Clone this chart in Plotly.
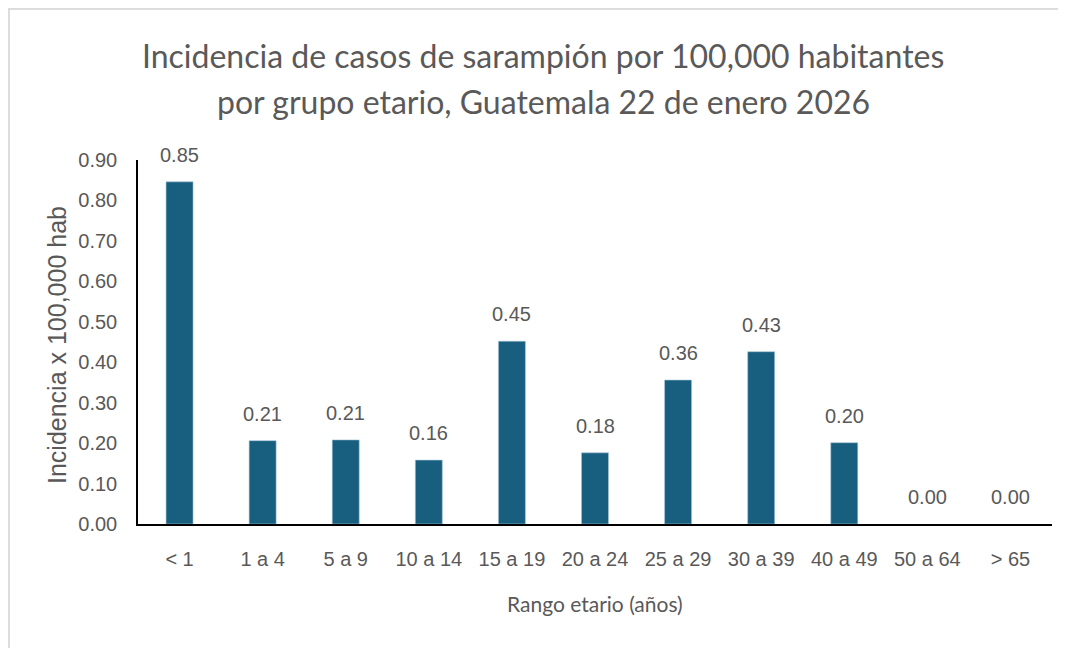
import plotly.graph_objects as go

categories = ["< 1", "1 a 4", "5 a 9", "10 a 14", "15 a 19", "20 a 24",
              "25 a 29", "30 a 39", "40 a 49", "50 a 64", "> 65"]
incidence = [0.846, 0.206, 0.208, 0.158, 0.452, 0.176, 0.356, 0.426, 0.201, 0.0, 0.0]
y_ticks = [0.0, 0.1, 0.2, 0.3, 0.4, 0.5, 0.6, 0.7, 0.8, 0.9]

title_lines = ["Incidencia de casos de sarampión por 100,000 habitantes",
               "por grupo etario, Guatemala 22 de enero 2026"]
x_title = "Rango etario (años)"
y_title = "Incidencia x 100,000 hab"

TITLE_FONT = "Lato, Liberation Sans, sans-serif"
TICK_FONT = "Liberation Sans, Arial, sans-serif"
GRAY = "#595959"

W, H = 1066, 648
L, T, R, B = 130, 152, 22, 132
pw = W - L - R
ph = H - T - B


def px_x(fx):
    return (fx - L) / pw


def px_y(fy):
    return (H - B - fy) / ph


fig = go.Figure(go.Bar(
    x=categories,
    y=incidence,
    marker=dict(color="#175E7F",
                line=dict(color="#a9c8d6", width=[0.6 if v > 0 else 0 for v in incidence])),
    hoverinfo="x+y",
))

for c, v in zip(categories, incidence):
    fig.add_annotation(x=c, y=v, xref="x", yref="y", text=f"{v:.2f}",
                       showarrow=False, yanchor="bottom", yshift=14,
                       font=dict(family=TICK_FONT, size=20, color=GRAY))

for i, line in enumerate(title_lines):
    fig.add_annotation(x=px_x(535), y=px_y(48 + 46 * i), xref="paper", yref="paper",
                       text=line, showarrow=False, xanchor="center", yanchor="middle",
                       font=dict(family=TITLE_FONT, size=32, color=GRAY))

fig.add_annotation(x=0.5, y=px_y(595), xref="paper", yref="paper", text=x_title,
                   showarrow=False, xanchor="center", yanchor="middle",
                   font=dict(family=TITLE_FONT, size=21, color=GRAY))
fig.add_annotation(x=px_x(49), y=px_y(337), xref="paper", yref="paper", text=y_title,
                   showarrow=False, xanchor="center", yanchor="middle", textangle=-90,
                   font=dict(family=TICK_FONT, size=25, color=GRAY))

fig.update_layout(
    width=W, height=H,
    margin=dict(l=L, r=R, t=T, b=B),
    paper_bgcolor="white",
    plot_bgcolor="white",
    bargap=0.675,
    showlegend=False,
    xaxis=dict(
        showline=True, linecolor="black", linewidth=1.5,
        ticks="", tickfont=dict(family=TICK_FONT, size=20, color=GRAY),
        ticklabelstandoff=16, showgrid=False,
    ),
    yaxis=dict(
        range=[0, 0.9], tickvals=y_ticks, tickformat=".2f",
        showline=True, linecolor="black", linewidth=1.5,
        showgrid=False, zeroline=False, ticks="",
        tickfont=dict(family=TICK_FONT, size=20, color=GRAY),
        ticklabelstandoff=15,
    ),
)

# outer chart-area frame (top & left edges visible in reference)
fig.add_shape(type="rect", xref="paper", yref="paper",
              x0=px_x(1), x1=1.2, y0=-0.6, y1=px_y(1),
              line=dict(color="#dcdcdc", width=2), layer="below")

fig.write_html("out.html")
